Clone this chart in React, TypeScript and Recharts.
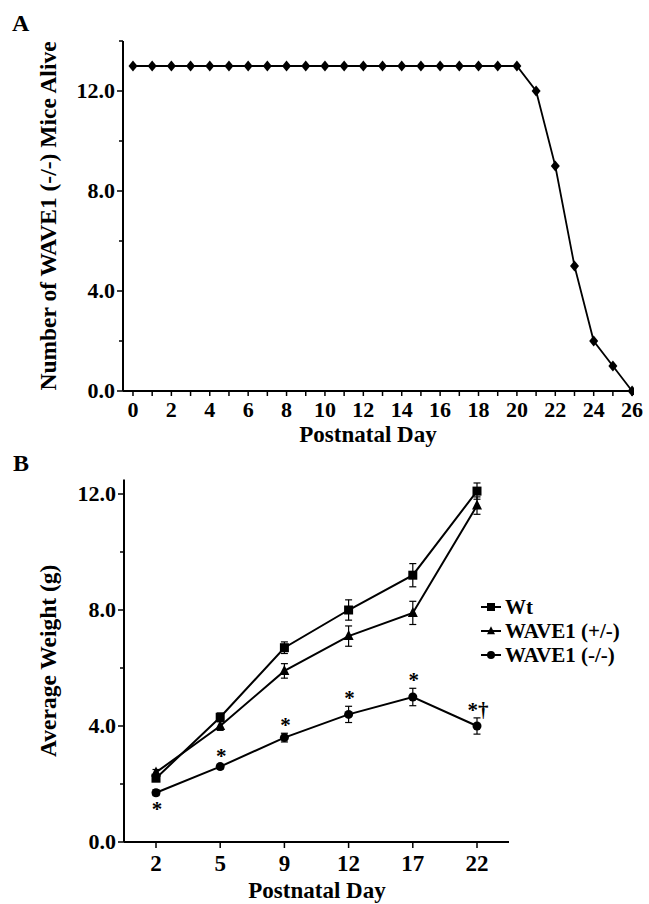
import { LineChart, Line, XAxis, YAxis, ErrorBar, LabelList, Legend, Label } from 'recharts';

// ── Data ──────────────────────────────────────────────────────────────────────

// Panel A: survival of WAVE1 (-/-) mice
const survivalDays = [0, 1, 2, 3, 4, 5, 6, 7, 8, 9, 10, 11, 12, 13, 14, 15, 16, 17, 18, 19, 20, 21, 22, 23, 24, 25, 26];
const miceAlive = [13, 13, 13, 13, 13, 13, 13, 13, 13, 13, 13, 13, 13, 13, 13, 13, 13, 13, 13, 13, 13, 12, 9, 5, 2, 1, 0];
const survivalYTicks = [0, 2, 4, 6, 8, 10, 12, 14];

// Panel B: average weight by genotype
const weightDays = ['2', '5', '9', '12', '17', '22'];
const wtWeight = [2.2, 4.3, 6.7, 8.0, 9.2, 12.1];
const wtSem = [0.1, 0.15, 0.2, 0.35, 0.4, 0.28];
const hetWeight = [2.4, 4.0, 5.9, 7.1, 7.9, 11.6];
const hetSem = [0.1, 0.15, 0.25, 0.35, 0.4, 0.3];
const koWeight = [1.7, 2.6, 3.6, 4.4, 5.0, 4.0];
const koSem = [0.1, 0.08, 0.15, 0.28, 0.3, 0.28];
const koMarks = ['*', '*', '*', '*', '*', '*†'];
const weightYTicks = [0, 2, 4, 6, 8, 10, 12];
const legendOrder = ['wt', 'het', 'ko'];

const survivalData = survivalDays.map((day, i) => ({ day, alive: miceAlive[i] }));
const weightData = weightDays.map((day, i) => ({
  day,
  wt: wtWeight[i], wtErr: wtSem[i],
  het: hetWeight[i], hetErr: hetSem[i],
  ko: koWeight[i], koErr: koSem[i],
  mark: koMarks[i],
}));

// ── Style ─────────────────────────────────────────────────────────────────────

const FONT = "'Liberation Serif', 'Times New Roman', serif";
const AXIS = { stroke: '#000', strokeWidth: 2 };
const B_TOP = 29.5;
const B_PLOT_H = 362.5;
const B_MAX = 12.5;
const PX_PER_G = B_PLOT_H / B_MAX;

// ── Ticks ─────────────────────────────────────────────────────────────────────

const YTick = (props: any) => {
  const { x, y, payload } = props;
  const major = payload.value % 4 === 0;
  return (
    <g>
      <line x1={x} x2={x - (major ? 6 : 4)} y1={y} y2={y} stroke="#000" strokeWidth={1.5} />
      {major && (
        <text x={x - 8} y={y} dy="0.34em" textAnchor="end" fontFamily={FONT} fontWeight="bold" fontSize={22} fill="#000">
          {payload.value.toFixed(1)}
        </text>
      )}
    </g>
  );
};

const XTickA = (props: any) => {
  const { x, y, payload } = props;
  return (
    <g>
      <line x1={x} x2={x} y1={y} y2={y + 5} stroke="#000" strokeWidth={1.5} />
      {payload.value % 2 === 0 && (
        <text x={x} y={y + 26} textAnchor="middle" fontFamily={FONT} fontWeight="bold" fontSize={22} fill="#000">
          {payload.value}
        </text>
      )}
    </g>
  );
};

const XTickB = (props: any) => {
  const { x, y, payload } = props;
  return (
    <g>
      <line x1={x} x2={x} y1={y} y2={y + 6} stroke="#000" strokeWidth={1.5} />
      <text x={x} y={y + 29} textAnchor="middle" fontFamily={FONT} fontWeight="bold" fontSize={23} fill="#000">
        {payload.value}
      </text>
    </g>
  );
};

// ── Axis titles ───────────────────────────────────────────────────────────────

const yTitle = (text: string) => (props: any) => {
  const { viewBox } = props;
  const cy = viewBox.y + viewBox.height / 2;
  return (
    <text x={56} y={cy} transform={`rotate(-90, 56, ${cy})`} textAnchor="middle" fontFamily={FONT} fontWeight="bold" fontSize={23.5} fill="#000">
      {text}
    </text>
  );
};

const xTitle = (text: string, cx: number, dyBase: number) => (props: any) => {
  const { viewBox } = props;
  return (
    <text x={cx} y={viewBox.y + dyBase} textAnchor="middle" fontFamily={FONT} fontWeight="bold" fontSize={23} fill="#000">
      {text}
    </text>
  );
};

// ── Markers ───────────────────────────────────────────────────────────────────

const diamondDot = (props: any) => {
  const { cx, cy, index } = props;
  return <path key={index} d={`M${cx},${cy - 5.5}L${cx + 4.5},${cy}L${cx},${cy + 5.5}L${cx - 4.5},${cy}Z`} fill="#000" />;
};

const squareShape = (cx: number, cy: number, s: number) => (
  <rect x={cx - s / 2} y={cy - s / 2} width={s} height={s} fill="#000" />
);
const triangleShape = (cx: number, cy: number, s: number) => (
  <path d={`M${cx},${cy - s * 0.6}L${cx + s / 2},${cy + s * 0.4}L${cx - s / 2},${cy + s * 0.4}Z`} fill="#000" />
);
const circleShape = (cx: number, cy: number, s: number) => <circle cx={cx} cy={cy} r={s / 2} fill="#000" />;

const squareDot = (props: any) => <g key={props.index}>{squareShape(props.cx, props.cy, 9)}</g>;
const triangleDot = (props: any) => <g key={props.index}>{triangleShape(props.cx, props.cy, 10)}</g>;
const circleDot = (props: any) => <g key={props.index}>{circleShape(props.cx, props.cy, 9)}</g>;

const MARKERS: Record<string, (cx: number, cy: number, s: number) => any> = {
  wt: squareShape,
  het: triangleShape,
  ko: circleShape,
};

// ── Significance marks on the (-/-) series ────────────────────────────────────

const renderMark = (props: any) => {
  const { x, y, value, index } = props;
  const errPx = koSem[index] * PX_PER_G;
  const cy = index === 0 ? y + 13 : y - errPx - 11;
  return (
    <text x={x + 1} y={cy} dy="0.47em" textAnchor="middle" fontFamily={FONT} fontWeight="bold" fontSize={21} fill="#000">
      {value}
    </text>
  );
};

// ── Legend ────────────────────────────────────────────────────────────────────

const renderLegend = (props: any) => {
  const items = [...(props.payload ?? [])].sort(
    (a: any, b: any) => legendOrder.indexOf(a.dataKey) - legendOrder.indexOf(b.dataKey)
  );
  return (
    <div style={{ fontFamily: FONT, fontWeight: 'bold', fontSize: 21, lineHeight: '24px', color: '#000' }}>
      {items.map((item: any) => (
        <div key={item.dataKey} style={{ display: 'flex', alignItems: 'center', whiteSpace: 'nowrap' }}>
          <svg width={20} height={12} style={{ display: 'block' }}>
            <line x1={0} x2={20} y1={6} y2={6} stroke="#000" strokeWidth={2} />
            {MARKERS[item.dataKey](10, 6, 8)}
          </svg>
          <span style={{ marginLeft: 4 }}>{item.value}</span>
        </div>
      ))}
    </div>
  );
};

// ── Component ─────────────────────────────────────────────────────────────────

export default function App() {
  return (
    <div style={{ position: 'absolute', left: 0, top: 0, width: 649, height: 904, background: '#fff', fontFamily: FONT }}>
      <div style={{ position: 'absolute', left: 12, top: 11, fontSize: 24, fontWeight: 'bold', lineHeight: 1 }}>A</div>
      <div style={{ position: 'absolute', left: 13, top: 451, fontSize: 24, fontWeight: 'bold', lineHeight: 1 }}>B</div>

      {/* Panel A */}
      <div style={{ position: 'absolute', left: 0, top: 0 }}>
        <LineChart width={649} height={450} data={survivalData} margin={{ top: 41, right: 15, left: 0, bottom: 0 }}>
          <XAxis
            dataKey="day"
            type="number"
            domain={[-0.52, 26.1]}
            ticks={survivalDays}
            interval={0}
            allowDataOverflow
            height={59}
            tickSize={0}
            tickMargin={0}
            tickLine={false}
            axisLine={AXIS}
            tick={XTickA}
          >
            <Label content={xTitle('Postnatal Day', 368, 51)} />
          </XAxis>
          <YAxis
            type="number"
            domain={[0, 14]}
            ticks={survivalYTicks}
            interval={0}
            width={123}
            tickSize={0}
            tickMargin={0}
            tickLine={false}
            axisLine={AXIS}
            tick={YTick}
          >
            <Label content={yTitle('Number of WAVE1 (-/-) Mice Alive')} />
          </YAxis>
          <Line
            dataKey="alive"
            type="linear"
            stroke="#000"
            strokeWidth={1.8}
            dot={diamondDot}
            activeDot={false}
            isAnimationActive={false}
          />
        </LineChart>
      </div>

      {/* Panel B */}
      <div style={{ position: 'absolute', left: 0, top: 450 }}>
        <LineChart width={649} height={454} data={weightData} margin={{ top: B_TOP, right: 140, left: 0, bottom: 0 }}>
          <XAxis
            dataKey="day"
            type="category"
            padding={{ left: 32, right: 32 }}
            interval={0}
            height={62}
            tickSize={0}
            tickMargin={0}
            tickLine={false}
            axisLine={AXIS}
            tick={XTickB}
          >
            <Label content={xTitle('Postnatal Day', 317, 56)} />
          </XAxis>
          <YAxis
            type="number"
            domain={[0, B_MAX]}
            ticks={weightYTicks}
            interval={0}
            width={124}
            tickSize={0}
            tickMargin={0}
            tickLine={false}
            axisLine={AXIS}
            tick={YTick}
          >
            <Label content={yTitle('Average Weight (g)')} />
          </YAxis>
          <Legend
            layout="vertical"
            align="center"
            verticalAlign="middle"
            content={renderLegend}
            wrapperStyle={{ left: 481, top: 145, width: 170 }}
          />
          <Line name="Wt" dataKey="wt" type="linear" stroke="#000" strokeWidth={2} dot={squareDot} activeDot={false} isAnimationActive={false}>
            <ErrorBar dataKey="wtErr" direction="y" width={3.5} stroke="#000" strokeWidth={1.2} />
          </Line>
          <Line name="WAVE1 (+/-)" dataKey="het" type="linear" stroke="#000" strokeWidth={2} dot={triangleDot} activeDot={false} isAnimationActive={false}>
            <ErrorBar dataKey="hetErr" direction="y" width={3.5} stroke="#000" strokeWidth={1.2} />
          </Line>
          <Line name="WAVE1 (-/-)" dataKey="ko" type="linear" stroke="#000" strokeWidth={2} dot={circleDot} activeDot={false} isAnimationActive={false}>
            <ErrorBar dataKey="koErr" direction="y" width={3.5} stroke="#000" strokeWidth={1.2} />
            <LabelList dataKey="mark" content={renderMark} />
          </Line>
        </LineChart>
      </div>
    </div>
  );
}
